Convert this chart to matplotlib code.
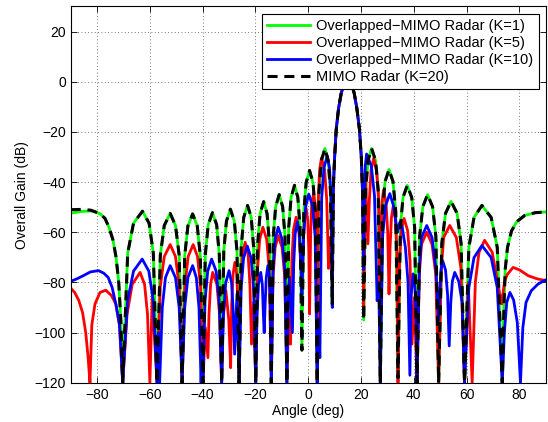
import matplotlib
matplotlib.use("Agg")
import matplotlib.pyplot as plt

plt.rcParams['font.family'] = ['Liberation Sans', 'DejaVu Sans']
plt.rcParams['font.size'] = 10

# values (angle in deg, overall gain in dB)
ang_k1 = [-90, -86, -82.4, -79, -77, -75.5, -74, -72.8, -71.8, -71.0, -70.3,
          -68.4, -66.2, -62.8, -60.3, -58.7, -57.3,
          -56.05, -54.55, -52.3, -50.3, -48.9, -47.8,
          -46.8, -45.6, -43.8, -42.05, -40.9, -39.9,
          -39.0, -37.9, -36.3, -34.7, -33.7, -32.8,
          -32.0, -31.0, -29.5, -28.0, -27.0, -26.2,
          -25.4, -24.45, -23.0, -21.6, -20.7, -19.9,
          -19.15, -18.25, -16.9, -15.6, -14.7, -14.0,
          -13.25, -12.35, -11.0, -9.7, -8.8, -8.1,
          -7.4, -6.5, -5.2, -3.95, -3.1, -2.4,
          -1.7, -0.8, 0.5, 1.8, 2.7, 3.4,
          4.1, 5.0, 6.3, 7.55, 8.4, 9.1,
          9.5, 10.0, 10.6, 11.5, 12.5, 13.5, 15.0, 16.5, 17.4, 18.4, 19.4, 20.1, 20.6, 21.0,
          21.75, 22.65, 24.0, 25.5, 26.5, 27.3,
          28.1, 29.1, 30.6, 32.1, 33.15, 34.0,
          34.9, 35.9, 37.5, 39.2, 40.3, 41.2,
          42.2, 43.4, 45.2, 47.1, 48.35, 49.4,
          50.6, 52.0, 54.1, 56.4, 57.9, 59.2,
          60.85, 62.8, 65.8, 69.3, 71.6, 73.5,
          74.0, 74.6, 75.5, 77, 79, 82, 86, 90]
gain_k1 = [-52.4, -51.7, -51.5, -52.5, -54.5, -58, -63, -70, -80, -95, -120,
           -68.3, -56.4, -51.6, -56.4, -68.3, -120,
           -69.2, -57.3, -52.5, -57.3, -69.2, -120,
           -69.4, -57.5, -52.7, -57.5, -69.4, -120,
           -68.9, -57.0, -52.2, -57.0, -68.9, -120,
           -67.5, -55.6, -50.8, -55.6, -67.5, -120,
           -66.0, -54.1, -49.3, -54.1, -66.0, -120,
           -64.5, -52.6, -47.8, -52.6, -64.5, -120,
           -61.7, -49.8, -45.0, -49.8, -61.7, -120,
           -58.0, -46.1, -41.3, -46.1, -58.0, -107,
           -52.1, -40.2, -35.4, -40.2, -52.1, -120,
           -43.3, -31.4, -26.6, -31.4, -43.3, -88.6,
           -42, -30, -19, -10.5, -4.5, -1.3, 0, -1.3, -4.5, -10.5, -19, -30, -45, -95,
           -43.3, -31.4, -26.6, -31.4, -43.3, -120,
           -51.7, -39.8, -35.0, -39.8, -51.7, -118,
           -58.0, -46.1, -41.3, -46.1, -58.0, -120,
           -61.7, -49.8, -45.0, -49.8, -61.7, -120,
           -64.4, -52.5, -47.7, -52.5, -64.4, -120,
           -66.0, -54.1, -49.3, -54.1, -66.0, -120,
           -95, -75, -66, -59.5, -55.8, -53.3, -52.2, -51.9]

ang_k20 = list(ang_k1)
gain_k20 = [-51.0, -50.9, -51.2] + gain_k1[3:]

ang_k5 = [-90, -88.5, -87, -85.5, -84.3, -83.4, -82.7,
          -82.0, -80.8, -78.9, -76.7, -74.5, -72.9, -71.5, -70.3,
          -68.65, -66.7, -63.7, -62.0, -60.9, -60.0,
          -59.1, -57.3,
          -56.05, -54.55, -52.3, -50.3, -48.9, -47.8,
          -46.75, -45.5, -43.6, -41.95, -40.8, -39.9,
          -39.0, -38.0,
          -37.6, -37.0, -36.2, -34.6, -33.6, -32.8,
          -32.3, -31.2, -30.1, -29.4,
          -29.0, -28.5, -27.8, -27.1, -26.6, -26.2,
          -25.6, -24.9, -23.9, -22.8, -22.1, -21.5,
          -20.7, -19.9,
          -19.2, -18.4, -17.2, -15.75, -14.8, -14.0,
          -13.35, -12.55, -11.4, -9.9, -8.9, -8.1,
          -7.4, -6.7,
          -6.2, -5.55, -4.6, -3.6, -2.95, -2.4,
          -2.0, -1.5, -0.8, -0.2, 0.2, 0.5,
          0.9, 1.3, 2.0, 2.6, 3.05, 3.4,
          3.8, 4.3, 5.0, 6.2, 7.0, 7.7,
          8.4, 9.1,
          9.5, 10.0, 10.6, 11.5, 12.5, 13.5, 15.0, 16.5, 17.4, 18.4, 19.4, 20.1, 20.6, 21.0,
          21.7, 22.6,
          23.15, 23.8, 24.8, 25.9, 26.7, 27.3,
          27.6, 27.95, 28.5, 29.45, 30.1, 30.6,
          31.0, 31.5, 32.2, 33.0, 33.55, 34.0,
          34.6, 35.25, 36.3, 37.65, 38.55, 39.3,
          40.2, 41.2,
          42.1, 42.9, 44.9, 46.9, 48.3, 49.4,
          50.45, 51.3, 53.6, 56.1, 57.8, 59.2,
          60.6, 62.1,
          63.3, 64.7, 66.8, 69.7, 71.7, 73.3,
          74.3, 75.3, 77.6, 80, 83.3, 86.5, 90]
gain_k5 = [-82.3, -84, -87, -92, -100, -110, -120,
           -97, -88.6, -84, -83.1, -85.3, -88.6, -97, -120,
           -92.7, -80.8, -76, -80.8, -92.7, -120,
           -86, -120,
           -81.6, -69.7, -64.9, -69.7, -81.6, -120,
           -81.6, -69.7, -64.9, -69.7, -81.6, -120,
           -98, -110,
           -92.7, -80.8, -76, -80.8, -92.7, -120,
           -95, -83.3, -95, -114,
           -88.7, -76.8, -72, -76.8, -88.7, -120,
           -80.7, -68.8, -64, -68.8, -80.7, -104.6,
           -88, -120,
           -74.7, -62.8, -58, -62.8, -74.7, -120,
           -78, -66.1, -61.3, -66.1, -78, -120,
           -92, -104.6,
           -70.7, -58.8, -54, -58.8, -70.7, -75,
           -67.1, -55.2, -50.4, -55.2, -67.1, -92.6,
           -61.1, -49.2, -44.4, -49.2, -61.1, -120,
           -47.1, -35.2, -30.4, -35.2, -47.1, -74.4,
           -62, -80,
           -42, -30, -19, -10.5, -4.5, -1.3, 0, -1.3, -4.5, -10.5, -19, -30, -45, -90,
           -38, -64.6,
           -47.2, -35.3, -30.5, -35.3, -47.2, -120,
           -60, -48.1, -43.3, -48.1, -60, -84.6,
           -66.2, -54.3, -49.5, -54.3, -66.2, -120,
           -71.2, -59.3, -54.5, -59.3, -71.2, -104.6,
           -86, -120,
           -76.7, -64.8, -60, -64.8, -76.7, -120,
           -74, -62.1, -57.3, -62.1, -74, -120,
           -80, -120,
           -79.9, -68, -63.2, -68, -79.9, -88.6,
           -80, -77, -74, -75, -77.3, -78.5, -79.3]

ang_k10 = [-90, -87.5, -85.2, -82.5, -79.5, -77.5, -75.8, -74.3, -72.9, -71.5, -70.3,
           -68.45, -66.2, -62.9, -60.4, -58.7, -57.3,
           -56.8, -56.3,
           -55.3, -54.1, -52.3, -50.3, -48.9, -47.8,
           -46.8, -45.6, -43.8, -42.4, -41.4, -40.6,
           -40.25, -39.9,
           -39.1, -38.1, -36.6, -34.9, -33.75, -32.8,
           -32.1, -31.25, -30.0, -29.05, -28.4, -27.9,
           -27.0, -26.2,
           -25.4, -24.5, -23.1, -21.65, -20.7, -19.9,
           -19.4, -18.85, -18.0, -17.4, -17.0, -16.7,
           -16.3, -15.9, -15.3, -14.7, -14.35, -14.0,
           -13.35, -12.55, -11.4, -9.9, -8.9, -8.1,
           -7.6, -7.1, -6.6, -6.0,
           -5.5, -4.95, -4.1, -3.35, -2.8, -2.4,
           -1.75, -0.95, 0.2, 1.65, 2.6, 3.4,
           3.9, 4.4,
           5.1, 5.95, 7.2, 8.05, 8.6, 9.1,
           9.5, 10.0, 10.6, 11.5, 12.5, 13.5, 15.0, 16.5, 17.4, 18.4, 19.4, 20.1, 20.6, 21.0,
           21.3, 21.6, 22.1, 23.9, 25.1, 26.1,
           26.7, 27.3,
           28.2, 29.3, 30.9, 32.3, 33.2, 33.8,
           34.7, 35.6, 36.8, 37.8, 38.5,
           39.0, 39.7, 40.4, 40.8, 41.2,
           42.1, 42.9, 44.9, 46.9, 48.3, 49.4,
           49.8, 50.3, 50.9, 52.0, 52.8, 53.4,
           54.0, 54.6, 55.5, 57.0, 58.3, 59.2,
           60.85, 62.8, 65.8, 69.3, 71.6, 73.5,
           74.3, 75.2, 76.4, 77.8, 79.2, 80.4,
           81.3, 82.5, 84.5, 87.1, 90]
gain_k10 = [-79.6, -78.5, -77.3, -75.8, -75.3, -76.3, -78, -82, -88.6, -97, -120,
            -87.4, -75.5, -70.7, -75.5, -87.4, -120,
            -100, -120,
            -90, -78.1, -73.3, -78.1, -90, -120,
            -90, -78.1, -73.3, -78.1, -90, -120,
            -105, -120,
            -87.4, -75.5, -70.7, -75.5, -87.4, -120,
            -92, -80.1, -75.3, -80.1, -92, -108.6,
            -84.6, -120,
            -82.2, -70.3, -65.5, -70.3, -82.2, -120,
            -92.7, -80.8, -76, -80.8, -92.7, -100,
            -88, -78, -73.3, -78, -88, -120,
            -74.7, -62.8, -58, -62.8, -74.7, -120,
            -88, -78, -88, -100,
            -72.5, -60.6, -55.8, -60.6, -72.5, -85,
            -61.5, -49.6, -44.8, -49.6, -61.5, -120,
            -95, -110,
            -46.2, -34.3, -29.5, -34.3, -46.2, -90,
            -42, -30, -19, -10.5, -4.5, -1.3, 0, -1.3, -4.5, -10.5, -19, -30, -45, -75,
            -45.5, -33.6, -28.8, -33.6, -45.5, -87.3,
            -80, -120,
            -61.3, -49.4, -44.6, -49.4, -56, -60,
            -56, -58, -66, -80, -117,
            -85, -76.6, -82, -92, -120,
            -74, -62.1, -57.3, -62.1, -74, -95,
            -85, -75, -71.3, -75, -85, -105.3,
            -88, -79.5, -76, -79.5, -88, -120,
            -82, -70.1, -65.3, -70.1, -82, -120,
            -100, -88, -84, -87, -96, -120,
            -98, -88, -83.3, -80.6, -79]

labels = ['Overlapped\u2212MIMO Radar (K=1)', 'Overlapped\u2212MIMO Radar (K=5)',
          'Overlapped\u2212MIMO Radar (K=10)', 'MIMO Radar (K=20)']

fig = plt.figure(figsize=(5.48, 4.22), dpi=100)
ax = fig.add_axes([0.129, 0.093, 0.867, 0.8916])

ax.plot(ang_k1, gain_k1, color=(0, 1, 0), lw=2.0, label=labels[0])
ax.plot(ang_k5, gain_k5, color=(1, 0, 0), lw=2.0, label=labels[1])
ax.plot(ang_k10, gain_k10, color=(0, 0, 1), lw=2.0, label=labels[2])
ax.plot(ang_k20, gain_k20, color='k', lw=2.2, linestyle=(0, (3.3, 2.2)), label=labels[3])

ax.set_xlim(-90, 90)
ax.set_ylim(-120, 30)
ax.set_xticks(range(-80, 81, 20))
ax.set_yticks(range(-120, 21, 20))
ax.grid(True, color='0.3', linestyle=(0, (1, 3)), linewidth=0.6)
ax.tick_params(direction='in', top=True, right=True, length=4, width=0.6)
for s in ax.spines.values():
    s.set_linewidth(0.8)
ax.set_xlabel('Angle (deg)', labelpad=2)
ax.set_ylabel('Overall Gain (dB)', labelpad=4)

leg = ax.legend(loc='upper right', fancybox=False, framealpha=1, edgecolor='k',
                fontsize=10.5, handlelength=3.0, handletextpad=0.4, labelspacing=0.2,
                borderpad=0.35, borderaxespad=0.5)
leg.get_frame().set_linewidth(0.8)

fig.savefig('out.png', dpi=100)
